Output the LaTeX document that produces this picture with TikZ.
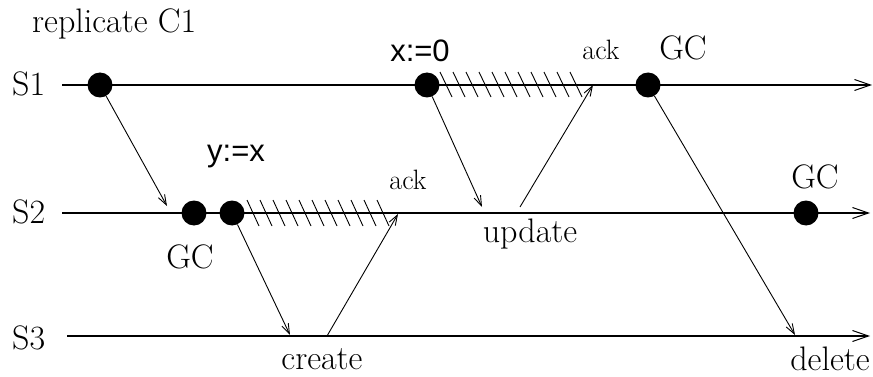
\documentclass[tikz,border=0pt]{standalone}
\usepackage{fontspec}
\newfontfamily\hsans{Liberation Sans}
\usetikzlibrary{arrows.meta}
\tikzset{
  dot/.style={circle,fill=black,draw=none,inner sep=0pt,minimum size=25pt},
  timeline/.style={line width=1.2pt,-{Straight Barb[length=16pt,width=11pt,line width=1pt]}},
  msg/.style={line width=0.9pt,-{Straight Barb[length=10pt,width=7pt,line width=0.9pt]}},
  hatch/.style={line width=0.9pt},
  lbl/.style={inner sep=0pt,font=\fontsize{34}{40}\selectfont},
  small/.style={inner sep=0pt,font=\fontsize{28}{32}\selectfont},
  sanslbl/.style={inner sep=0pt,font=\hsans\fontsize{31}{36}\selectfont}
}
\begin{document}
\begin{tikzpicture}[x=1pt,y=-1pt]
\useasboundingbox (0,0) rectangle (873,377);
% timeline endpoints
\coordinate (s1a) at (62,85);  \coordinate (s1b) at (872,85);
\coordinate (s2a) at (62,213); \coordinate (s2b) at (870,213);
\coordinate (s3a) at (67,336); \coordinate (s3b) at (870,336);
% hatching
\foreach \k in {0,...,10} {
  \draw[hatch] (440+13*\k,72) -- (452+13*\k,97);
  \draw[hatch] (247+13*\k,200) -- (259+13*\k,226);
}
\draw[timeline] (s1a) -- (s1b);
\draw[timeline] (s2a) -- (s2b);
\draw[timeline] (s3a) -- (s3b);
% dots
\node[dot] (r1) at (100,85) {};
\node[dot] (x0) at (427,85) {};
\node[dot] (gc1) at (648,85) {};
\node[dot] (gc2a) at (194,213) {};
\node[dot] (yx) at (232,213) {};
\node[dot] (gc2b) at (806,213) {};
% message end points
\coordinate (m1) at (167,206);
\coordinate (m2) at (290,335);
\coordinate (m3s) at (327,336);
\coordinate (m3e) at (398,214);
\coordinate (m4) at (482,207);
\coordinate (m5s) at (520,207);
\coordinate (m5e) at (593,85);
\coordinate (m6) at (795,335);
% messages
\draw[msg] (r1) -- (m1);
\draw[msg] (yx) -- (m2);
\draw[msg] (m3s) -- (m3e);
\draw[msg] (x0) -- (m4);
\draw[msg] (m5s) -- (m5e);
\draw[msg] (gc1) -- (m6);
% labels
\node[lbl,anchor=base west] (title) at (32,33) {replicate C1};
\node[lbl,anchor=base west] (S1) at (12,96) {S1};
\node[lbl,anchor=base west] (S2) at (12,223) {S2};
\node[lbl,anchor=base west] (S3) at (12,349) {S3};
\node[sanslbl] (lx0) at (420,51) {x:=0};
\node[sanslbl] (lyx) at (236,157) {y:=x};
\node[small] (ack1) at (601,50) {ack};
\node[small] (ack2) at (408,180) {ack};
\node[lbl] (lgc1) at (683,48) {GC};
\node[lbl] (lgc2a) at (190,257) {GC};
\node[lbl] (lgc2b) at (815,177) {GC};
\node[lbl] (lupd) at (530,234) {update};
\node[lbl] (lcre) at (322,359) {create};
\node[lbl] (ldel) at (830,359) {delete};
\end{tikzpicture}
\end{document}
